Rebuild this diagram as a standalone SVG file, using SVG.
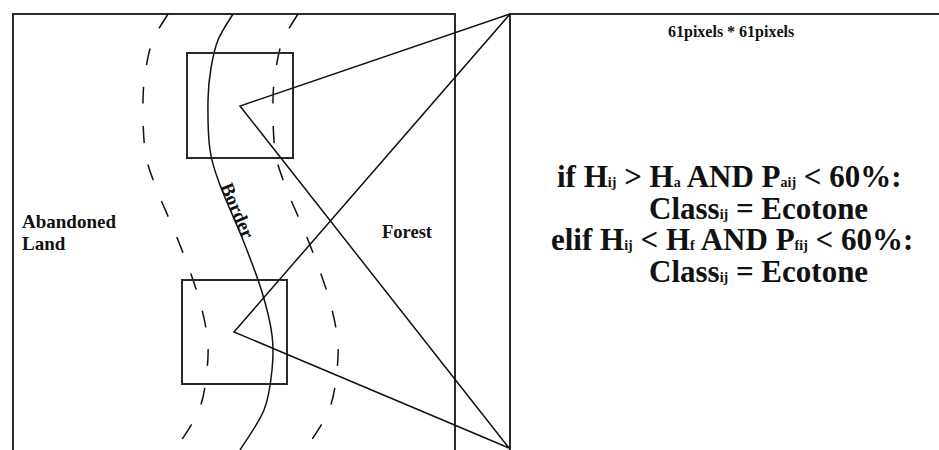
<svg xmlns="http://www.w3.org/2000/svg" xmlns:xlink="http://www.w3.org/1999/xlink" width="939" height="450" viewBox="0 0 939 450">
<style>
.frame{fill:none;stroke:#2a2a2a;stroke-width:2}
.ln{fill:none;stroke:#111;stroke-width:1.5}
.dash{fill:none;stroke:#111;stroke-width:1.5;stroke-dasharray:17 22}
.t{font-family:"Liberation Serif","Times New Roman",serif;font-weight:bold;fill:#111}
.rule{font-size:31px}
.sub{font-size:14px}
</style>
<defs>
<path id="border" d="M233,14 C230.5,18.3 221.7,31 218,40 C214.3,49 212.7,58 211,68 C209.3,78 208.2,86.3 208,100 C207.8,113.7 208,135.8 210,150 C212,164.2 214.5,170 220,185 C225.5,200 236,222.2 243,240 C250,257.8 257.2,276.2 262,292 C266.8,307.8 270.3,322 272,335 C273.7,348 273.3,357.5 272,370 C270.7,382.5 269.3,396.7 264,410 C258.7,423.3 244,443.3 240,450"/>
</defs>
<rect width="939" height="450" fill="#fff"/>
<g id="left-panel">
<path class="frame" d="M13,450 V14 H455 V450"/>
</g>
<g id="right-panel">
<path class="frame" d="M510,450 V14 H939"/>
</g>
<g id="ecotone-bounds">
<use xlink:href="#border" class="dash" transform="translate(-65,0)"/>
<use xlink:href="#border" class="dash" transform="translate(65,0)"/>
</g>
<g id="border-line">
<use xlink:href="#border" class="ln"/>
<text class="t" font-size="19"><textPath xlink:href="#border" startOffset="179">Border</textPath></text>
</g>
<g id="window-upper">
<rect class="frame" x="187" y="53" width="106" height="105"/>
</g>
<g id="window-lower">
<rect class="frame" x="182" y="280" width="105" height="104"/>
</g>
<g id="connectors">
<path class="ln" d="M510,14 L240,106 L509,448"/>
<path class="ln" d="M510,14 L234,332 L509,448"/>
</g>
<g id="labels">
<text class="t" font-size="19" x="22" y="228">Abandoned</text>
<text class="t" font-size="19" x="22" y="250">Land</text>
<text class="t" font-size="18.5" x="382" y="238">Forest</text>
<text class="t" font-size="16" x="668" y="37">61pixels * 61pixels</text>
</g>
<g id="rule">
<text class="t rule" x="557" y="187">if H<tspan class="sub">ij</tspan> &gt; H<tspan class="sub">a</tspan> AND P<tspan class="sub">aij</tspan> &lt; 60%:</text>
<text class="t rule" x="649" y="219">Class<tspan class="sub">ij</tspan> = Ecotone</text>
<text class="t rule" x="551" y="250">elif H<tspan class="sub">ij</tspan> &lt; H<tspan class="sub">f</tspan> AND P<tspan class="sub">fij</tspan> &lt; 60%:</text>
<text class="t rule" x="649" y="282">Class<tspan class="sub">ij</tspan> = Ecotone</text>
</g>
</svg>
